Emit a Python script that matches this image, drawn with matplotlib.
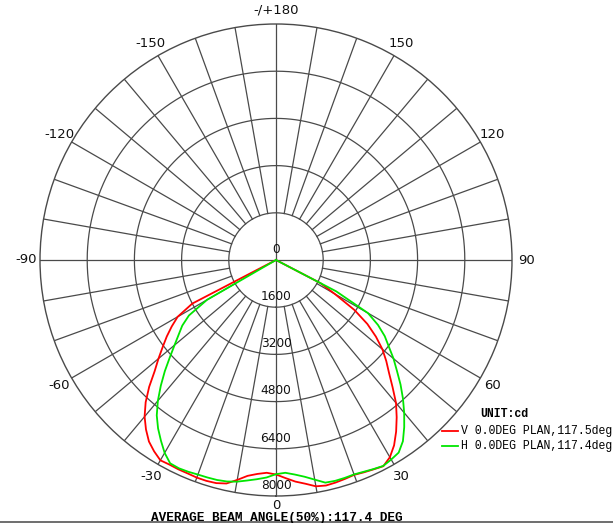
import numpy as np
import matplotlib
matplotlib.use("Agg")
import matplotlib.pyplot as plt

## data (angle in deg, 0 = down, + = right ; intensity in cd)
red_ang = [-90, -65, -62.5, -60, -57.5, -55, -52.5, -50, -47.5, -45, -42.5, -40,
           -37.5, -35, -32.5, -30, -27.5, -25, -22.5, -20, -17.5, -15, -12.5, -10,
           -7.5, -5, -2.5, 0, 2.5, 5, 7.5, 10, 12.5, 15, 17.5, 20, 22.5, 25, 27.5,
           30, 32.5, 35, 37.5, 40, 42.5, 45, 47.5, 50, 52.5, 55, 57.5, 60, 62.5, 65, 90]
red_cd = [0, 0, 3200, 3850, 4190, 4520, 4840, 5200, 5580, 6080, 6540, 6930,
          7240, 7510, 7690, 7840, 7820, 7830, 7830, 7850, 7850, 7830, 7760, 7570,
          7380, 7280, 7220, 7270, 7400, 7540, 7650, 7790, 7830, 7810, 7780, 7750, 7790, 7830, 7880,
          7720, 7450, 7100, 6720, 6330, 5850, 5420, 5070, 4710, 4270, 3780, 3150, 2300, 1700, 0, 0]

green_ang = [-90, -62.5, -60, -57.5, -55, -52.5, -50, -47.5, -45, -42.5, -40,
             -37.5, -35, -32.5, -30, -27.5, -25, -22.5, -20, -17.5, -15, -12.5, -10,
             -7.5, -5, -2.5, 0, 2.5, 5, 7.5, 10, 12.5, 15, 17.5, 20, 22.5, 25, 27.5,
             30, 32.5, 35, 37.5, 40, 42.5, 45, 47.5, 50, 52.5, 55, 57.5, 60, 62.5, 65, 90]
green_cd = [0, 0, 2700, 3500, 3880, 4160, 4490, 4880, 5330, 5780, 6230,
            6640, 6970, 7260, 7550, 7770, 7790, 7770, 7740, 7730, 7720, 7690, 7630,
            7540, 7460, 7380, 7260, 7220, 7300, 7410, 7560, 7730, 7750, 7745, 7735, 7770, 7820, 7870,
            7810, 7740, 7500, 7140, 6760, 6370, 5970, 5560, 5200, 4820, 4500, 4100, 3600, 2300, 0, 0]

ring_vals = [1600, 3200, 4800, 6400, 8000]
ring_labels = ["0", "1600", "3200", "4800", "6400", "8000"]
angle_ticks = [0, 30, 60, 90, 120, 150, 180, -150, -120, -90, -60, -30]
angle_labels = ["0", "30", "60", "90", "120", "150", "-/+180", "-150", "-120", "-90", "-60", "-30"]

legend_names = ["V 0.0DEG PLAN,117.5deg", "H 0.0DEG PLAN,117.4deg"]
beam_text = "AVERAGE BEAM ANGLE(50%):117.4 DEG"

grid_col = "#4a4a4a"

fig = plt.figure(figsize=(6.13, 5.23), dpi=100)
ax = fig.add_axes([40 / 613, 27 / 523, 472 / 613, 472 / 523], projection="polar")
ax.set_theta_zero_location("S")
ax.set_theta_direction(1)
ax.set_ylim(0, 8000)
ax.grid(False)
ax.set_xticks([])
ax.set_yticks([])
ax.spines["polar"].set_color(grid_col)
ax.spines["polar"].set_linewidth(1.0)

# rings
circ = np.linspace(0, 2 * np.pi, 361)
for v in ring_vals[:-1]:
    ax.plot(circ, np.full_like(circ, v), color=grid_col, lw=0.9, zorder=1)

# spokes every 10 deg, main axes through the centre
for a in range(0, 360, 10):
    r0 = 0 if a % 90 == 0 else ring_vals[0]
    ax.plot([np.deg2rad(a)] * 2, [r0, 8000], color=grid_col, lw=0.9, zorder=1)

# ring labels
for v, lab in zip([0] + ring_vals, ring_labels):
    ax.annotate(lab, xy=(0, v), xytext=(0, 3), textcoords="offset points",
                ha="center", va="bottom", fontsize=8.7, color="#111111",
                zorder=3, annotation_clip=False)

# angle labels
for a, lab in zip(angle_ticks, angle_labels):
    r = 8330 if a == 0 else 8480
    ax.text(np.deg2rad(a), r, lab, ha="center", va="center",
            fontsize=9.5, color="#111111", clip_on=False)

# curves
ax.plot(np.deg2rad(red_ang), red_cd, color="#ff0000", lw=1.3, zorder=4)
ax.plot(np.deg2rad(green_ang), green_cd, color="#00e600", lw=1.3, zorder=4)

# legend
fig.text(480 / 613, 1 - 414 / 523, "UNIT:cd", family="Liberation Mono",
         weight="bold", fontsize=8.3, va="center", ha="left")
for i, (name, col) in enumerate(zip(legend_names, ["#ff0000", "#00e600"])):
    y = 1 - (431 + 14.7 * i) / 523
    fig.add_artist(plt.Line2D([442 / 613, 458 / 613], [y, y], color=col, lw=1.3))
    fig.text(461 / 613, y, name, family="Liberation Mono", fontsize=8.3,
             va="center", ha="left")

# beam angle text and bottom rule
fig.text(277 / 613, 1 - 521 / 523, beam_text, family="Liberation Mono",
         weight="bold", fontsize=9.2, ha="center", va="baseline")
fig.add_artist(plt.Line2D([0, 1], [1 - 521.5 / 523] * 2, color="#555555", lw=1.2))

plt.savefig("out.png", dpi=100)
